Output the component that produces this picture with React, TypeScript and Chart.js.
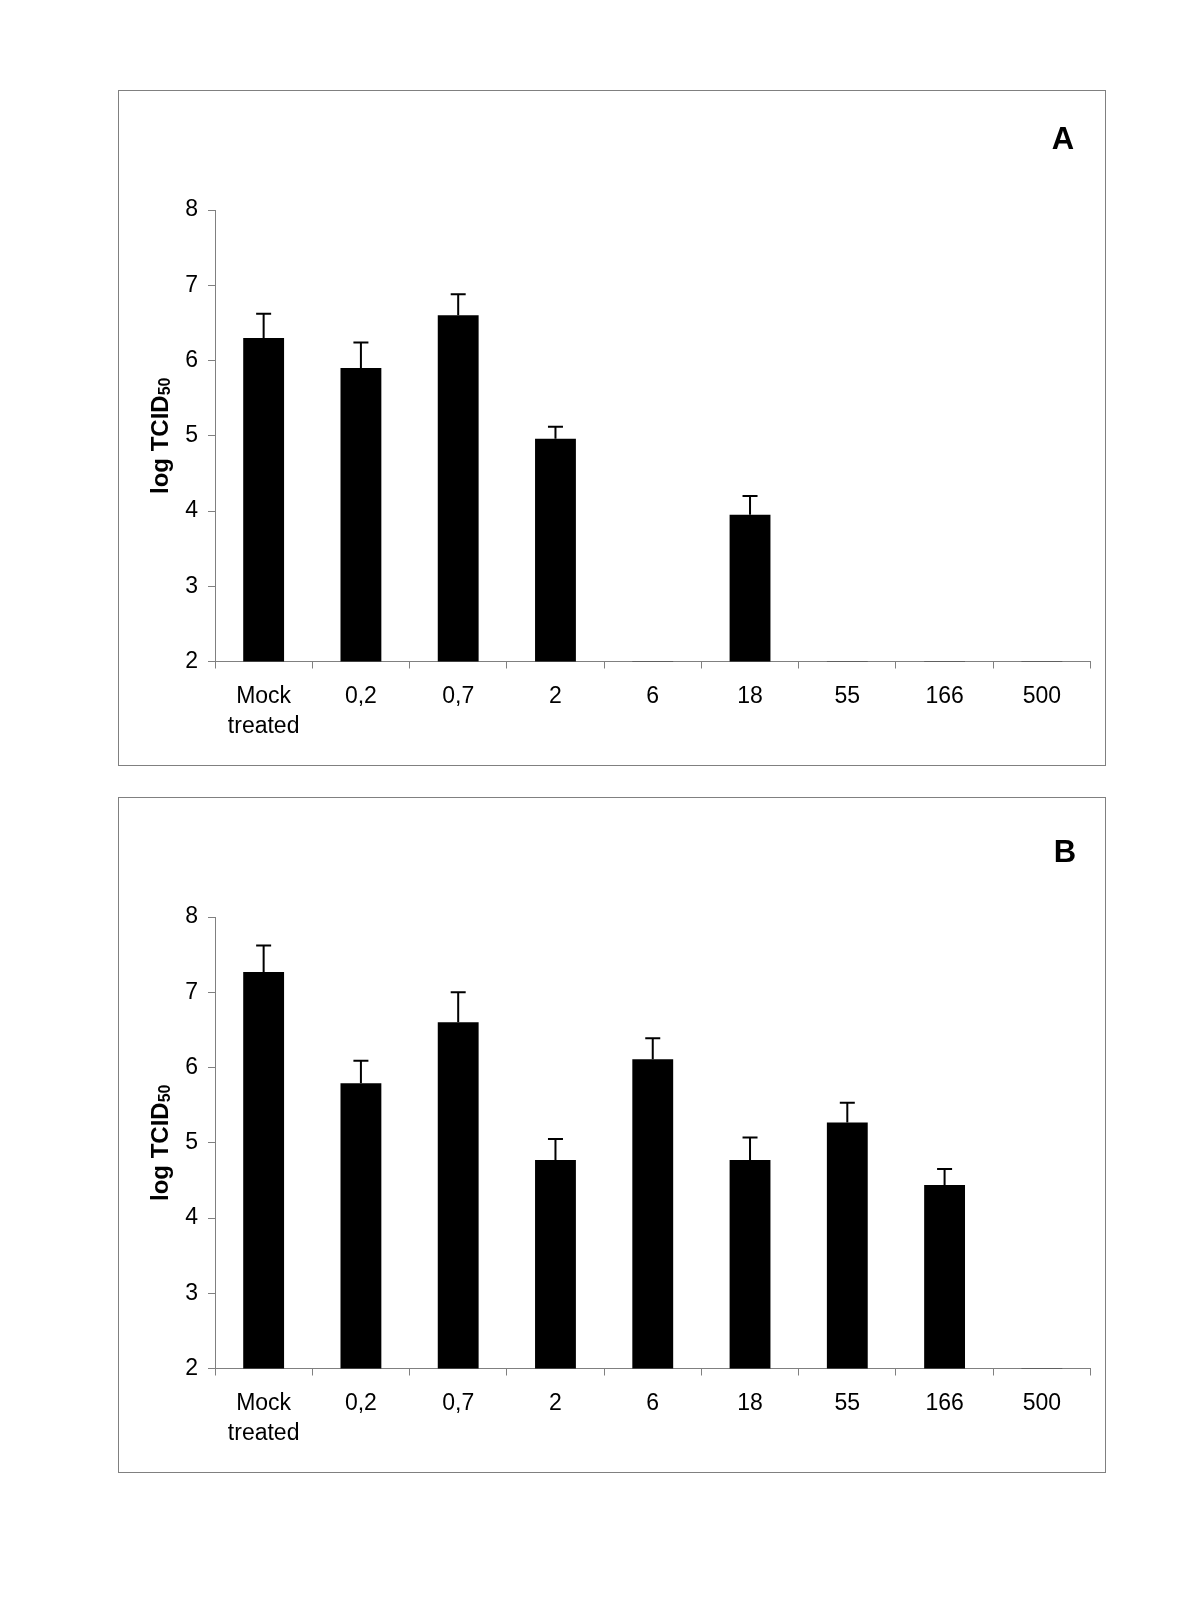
import React, { useEffect, useRef } from "react";
import { Chart, registerables } from "chart.js";

Chart.register(...registerables);

const categories: (string | string[])[] = [["Mock", "treated"], "0,2", "0,7", "2", "6", "18", "55", "166", "500"];
const valuesA = [6.3, 5.9, 6.6, 4.96, 2, 3.95, 2, 2, 2];
const errorsA = [0.32, 0.34, 0.28, 0.16, 0, 0.25, 0, 0, 0];
const valuesB = [7.27, 5.79, 6.6, 4.77, 6.11, 4.77, 5.27, 4.44, 2];
const errorsB = [0.35, 0.3, 0.4, 0.28, 0.28, 0.3, 0.26, 0.21, 0];
const yTicks = [2, 3, 4, 5, 6, 7, 8];
const yTitleMain = "log TCID";
const yTitleSub = "50";

const FONT = "'Liberation Sans', Arial, Helvetica, sans-serif";
const GRAY = "#808080";

type PanelProps = {
  values: number[];
  errors: number[];
  letter: string;
  top: number;
  letterX: number;
  letterY: number;
};

const CANVAS_W = 986;
const CANVAS_H = 674;

function Panel({ values, errors, letter, top, letterX, letterY }: PanelProps) {
  const ref = useRef<HTMLCanvasElement | null>(null);
  useEffect(() => {
    if (!ref.current) return;
    const errorBars = {
      id: "errorBars",
      afterDatasetsDraw(chart: any) {
        const ctx = chart.ctx;
        const meta = chart.getDatasetMeta(0);
        const y = chart.scales.y;
        ctx.save();
        ctx.strokeStyle = "#000";
        ctx.lineWidth = 2;
        meta.data.forEach((bar: any, i: number) => {
          const e = errors[i];
          if (!e) return;
          const yTop = y.getPixelForValue(values[i] + e);
          const yBar = y.getPixelForValue(values[i]);
          ctx.beginPath();
          ctx.moveTo(bar.x, yBar);
          ctx.lineTo(bar.x, yTop);
          ctx.moveTo(bar.x - 7.5, yTop);
          ctx.lineTo(bar.x + 7.5, yTop);
          ctx.stroke();
        });
        ctx.restore();
      },
    };
    const texts = {
      id: "texts",
      afterDraw(chart: any) {
        const ctx = chart.ctx;
        const area = chart.chartArea;
        ctx.save();
        ctx.fillStyle = "#000";
        const mainFont = `bold 24px ${FONT}`;
        const subFont = `bold 16px ${FONT}`;
        ctx.font = mainFont;
        const w1 = ctx.measureText(yTitleMain).width;
        ctx.font = subFont;
        const w2 = ctx.measureText(yTitleSub).width;
        const total = w1 + w2;
        const midY = (area.top + area.bottom) / 2;
        ctx.translate(49, midY);
        ctx.rotate(-Math.PI / 2);
        ctx.textBaseline = "alphabetic";
        ctx.textAlign = "left";
        ctx.font = mainFont;
        ctx.fillText(yTitleMain, -total / 2, 0);
        ctx.font = subFont;
        ctx.fillText(yTitleSub, -total / 2 + w1, 2);
        ctx.restore();
        ctx.save();
        ctx.fillStyle = "#000";
        ctx.font = `bold 31px ${FONT}`;
        ctx.textAlign = "center";
        ctx.textBaseline = "alphabetic";
        ctx.fillText(letter, letterX, letterY);
        ctx.restore();
      },
    };
    const chart = new Chart(ref.current, {
      type: "bar",
      data: {
        labels: categories as any,
        datasets: [
          {
            data: values,
            backgroundColor: "#000",
            borderColor: "#000",
            borderWidth: 0,
            barPercentage: 0.42,
            categoryPercentage: 1,
          },
        ],
      },
      options: {
        animation: false,
        responsive: false,
        maintainAspectRatio: false,
        devicePixelRatio: 1,
        layout: { padding: { top: 119, right: 14.5, left: 0, bottom: 0 } },
        plugins: { legend: { display: false }, tooltip: { enabled: false }, title: { display: false } },
        scales: {
          x: {
            afterFit(scale: any) {
              scale.height = 103.5;
            },
            grid: {
              display: true,
              drawOnChartArea: false,
              drawTicks: true,
              tickLength: 7,
              color: GRAY,
              offset: true,
            },
            border: { display: true, color: GRAY, width: 1 },
            ticks: {
              color: "#000",
              font: { family: FONT, size: 23, lineHeight: 1.3 },
              padding: 13,
              maxRotation: 0,
              autoSkip: false,
            },
          },
          y: {
            min: 2,
            max: 8,
            afterFit(scale: any) {
              scale.width = 96;
            },
            afterBuildTicks(scale: any) {
              scale.ticks = yTicks.map((v) => ({ value: v }));
            },
            grid: {
              display: true,
              drawOnChartArea: false,
              drawTicks: true,
              tickLength: 7,
              color: GRAY,
            },
            border: { display: true, color: GRAY, width: 1 },
            ticks: {
              color: "#000",
              font: { family: FONT, size: 23 },
              padding: 10,
              stepSize: 1,
            },
          },
        },
      },
      plugins: [errorBars, texts],
    });
    return () => chart.destroy();
  }, [values, errors, letter, letterX, letterY]);

  return (
    <div
      style={{
        position: "absolute",
        left: 118,
        top,
        width: CANVAS_W + 2,
        height: CANVAS_H + 2,
        border: `1px solid ${GRAY}`,
        boxSizing: "border-box",
        background: "#fff",
      }}
    >
      <canvas
        ref={ref}
        width={CANVAS_W}
        height={CANVAS_H}
        style={{ position: "absolute", left: 0, top: 0, width: CANVAS_W, height: CANVAS_H }}
      />
    </div>
  );
}

export default function App() {
  return (
    <div style={{ position: "absolute", left: 0, top: 0, width: 1200, height: 1600, background: "#fff" }}>
      <Panel values={valuesA} errors={errorsA} letter="A" top={90} letterX={944} letterY={58} />
      <Panel values={valuesB} errors={errorsB} letter="B" top={797} letterX={946} letterY={64} />
    </div>
  );
}
